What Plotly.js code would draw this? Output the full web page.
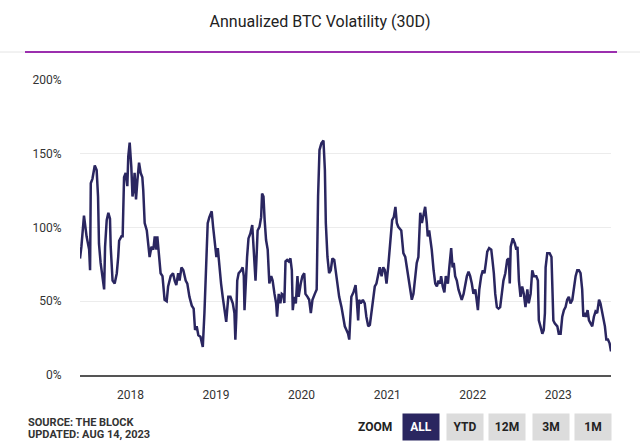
<!DOCTYPE html>
<html>
<head>
<meta charset="utf-8">
<script src="https://cdn.plot.ly/plotly-3.0.1.min.js"></script>
<style>html,body{margin:0;padding:0;background:#fff;}#chart{width:640px;height:445px;}</style>
</head>
<body>
<div id="chart"></div>
<script>
// ---- data ----
const dates = [
'2017-05-31','2017-06-06','2017-06-17','2017-06-28','2017-07-09','2017-07-13','2017-07-16','2017-07-23','2017-08-02','2017-08-10',
'2017-08-16','2017-08-20','2017-08-27','2017-09-03','2017-09-11','2017-09-15','2017-09-22','2017-09-29','2017-10-06','2017-10-09',
'2017-10-17','2017-10-26','2017-11-04','2017-11-10','2017-11-14','2017-11-24','2017-11-29','2017-12-05','2017-12-12','2017-12-19',
'2017-12-23','2017-12-29',
'2018-01-05','2018-01-10','2018-01-14','2018-01-19','2018-01-25','2018-01-31','2018-02-07','2018-02-14','2018-02-21','2018-02-25',
'2018-03-03','2018-03-12','2018-03-19','2018-03-24','2018-04-01','2018-04-09','2018-04-15','2018-04-22','2018-04-26','2018-05-03',
'2018-05-10','2018-05-18','2018-05-22','2018-05-27','2018-06-05','2018-06-11','2018-06-22','2018-07-02','2018-07-09','2018-07-16',
'2018-07-24','2018-07-30','2018-08-07','2018-08-15','2018-08-25','2018-09-01','2018-09-10','2018-09-20','2018-09-28','2018-10-04',
'2018-10-11','2018-10-18','2018-10-27','2018-11-06','2018-11-13','2018-11-17','2018-11-21','2018-11-27','2018-12-04','2018-12-14',
'2018-12-20','2018-12-29',
'2019-01-03','2019-01-09','2019-01-16','2019-01-23','2019-01-30','2019-02-06','2019-02-14','2019-02-18','2019-02-23','2019-03-04',
'2019-03-14','2019-03-21','2019-03-25','2019-03-29','2019-04-02','2019-04-08','2019-04-19','2019-04-25','2019-04-30','2019-05-03',
'2019-05-07','2019-05-14','2019-05-20','2019-05-28','2019-06-05','2019-06-10','2019-06-14','2019-06-19','2019-06-23','2019-06-28',
'2019-07-06','2019-07-13','2019-07-17','2019-07-23','2019-07-28','2019-08-03','2019-08-10','2019-08-17','2019-08-25','2019-08-31',
'2019-09-08','2019-09-15','2019-09-19','2019-09-26','2019-10-03','2019-10-09','2019-10-17','2019-10-20','2019-10-25','2019-11-01',
'2019-11-08','2019-11-15','2019-11-21','2019-11-25','2019-12-01','2019-12-08','2019-12-15','2019-12-20','2019-12-29',
'2020-01-05','2020-01-13','2020-01-18','2020-01-27','2020-02-03','2020-02-10','2020-02-17','2020-02-27','2020-03-06','2020-03-12',
'2020-03-18','2020-03-26','2020-04-04','2020-04-10','2020-04-14','2020-04-21','2020-04-28','2020-05-05','2020-05-12','2020-05-20',
'2020-05-26','2020-06-03','2020-06-10','2020-06-20','2020-06-27','2020-07-04','2020-07-11','2020-07-18','2020-07-23','2020-07-27',
'2020-08-01','2020-08-10','2020-08-19','2020-08-24','2020-08-30','2020-09-03','2020-09-10','2020-09-19','2020-09-27','2020-10-04',
'2020-10-12','2020-10-19','2020-10-26','2020-11-02','2020-11-09','2020-11-16','2020-11-23','2020-11-30','2020-12-08','2020-12-15',
'2020-12-22','2020-12-29',
'2021-01-05','2021-01-11','2021-01-16','2021-01-22','2021-01-29','2021-02-05','2021-02-11','2021-02-17','2021-03-02','2021-03-07',
'2021-03-11','2021-03-19','2021-03-26','2021-04-02','2021-04-09','2021-04-16','2021-04-23','2021-04-30','2021-05-07','2021-05-14',
'2021-05-22','2021-05-29','2021-06-05','2021-06-12','2021-06-19','2021-06-23','2021-06-29','2021-07-06','2021-07-10','2021-07-18',
'2021-07-25','2021-08-01','2021-08-08','2021-08-15','2021-08-19','2021-08-26','2021-09-02','2021-09-08','2021-09-17','2021-09-23',
'2021-10-01','2021-10-07','2021-10-12','2021-10-18','2021-10-25','2021-11-01','2021-11-08','2021-11-15','2021-11-23','2021-11-30',
'2021-12-07','2021-12-14','2021-12-21','2021-12-28',
'2022-01-04','2022-01-12','2022-01-18','2022-01-23','2022-01-29','2022-02-06','2022-02-13','2022-02-20','2022-02-26','2022-03-04',
'2022-03-12','2022-03-21','2022-03-26','2022-04-01','2022-04-07','2022-04-14','2022-04-21','2022-04-28','2022-05-05','2022-05-12',
'2022-05-20','2022-05-28','2022-06-04','2022-06-08','2022-06-12','2022-06-21','2022-06-30','2022-07-06','2022-07-11','2022-07-17',
'2022-07-24','2022-07-31','2022-08-07','2022-08-14','2022-08-22','2022-08-28','2022-09-05','2022-09-12','2022-09-19','2022-09-29',
'2022-10-06','2022-10-10','2022-10-17','2022-10-25','2022-10-31','2022-11-05','2022-11-08','2022-11-15','2022-11-25','2022-12-03',
'2022-12-06','2022-12-11','2022-12-17','2022-12-28',
'2023-01-03','2023-01-11','2023-01-18','2023-01-25','2023-02-01','2023-02-08','2023-02-15','2023-02-22','2023-03-02','2023-03-08',
'2023-03-16','2023-03-23','2023-03-30','2023-04-06','2023-04-13','2023-04-18','2023-04-24','2023-04-30','2023-05-06','2023-05-12',
'2023-05-19','2023-05-26','2023-06-02','2023-06-09','2023-06-16','2023-06-24','2023-06-30','2023-07-08','2023-07-14','2023-07-19',
'2023-07-25','2023-08-01','2023-08-08','2023-08-14'
];
const volatility = [
79,87,108,94,85,71,130,133,142,139,
121,89,76,67,58,87,105,110,106,87,
64,62,69,80,91,94,94,134,137,128,
148,157.5,
141,121,125,137,119,132,144,137,134,125,
103,98,89,80,87,85,94,85,94,83,
69,67,60,51,50,60,67,69,64,61,
69,64,73,71,64,62,53,47,45,30.5,
33,27,26,19,42,62,80,103,107,111,
100.5,87,
80,86,71,62,53,44,36,44,53,53,
48.6,42,24,39.5,64,69,71,73,67,44,
60,80,92.6,96,101.7,89,80,64,78,98,
100.5,107,123,121,105,91.5,85,62,67,64,
55,48.6,39.5,55,48.6,55,54,48.8,77,78,
77,79,71,44,53,48.6,67,53,62,
67,69,55,53,51,42,51,55,58,121,
152.5,157,159,139,103,80,69,71,79,78,
71,62,53,46,39.5,33,30.5,28,24,39.5,
53,56,61,51,37,51,48.6,51,48.6,39.5,
33,34,42,53,60,62,67,73,67,73,
71,62,
73,82.6,91.5,105,107,114,103,100.5,98,89,
82.6,80,73,67,58,51,55,64,76,80,
110,103,110,114,103,94,98,91.5,85,71,
62,60,64,62,67,60,56,67,62,73,
86,73,76,67,64,58,55,51,55,62,
67,70,67,62,
55,58,51,44,58,67,71,69,76,83.6,
86,85,78,69,55,46,45,46,55,64,
69,78,79,62,87,92.6,89,85,87,64,
53,60,55,46,58,48.6,55,71,67,67,
64,37,33,28,30.5,42,73,82.6,82.6,80,
64,37,35,33,
28,28,39.5,44,46,51,53,48.6,51,58,
67,71,71,69,58,39.5,42,39.5,44,37,
35,33,39.5,43,42,51,48.6,42,37,33,
24,24,21.5,16
];
const yTicks = [0, 50, 100, 150, 200];
const yTickLabels = ['0%', '50%', '100%', '150%', '200%'];
const titleText = 'Annualized BTC Volatility (30D)';
const footerLines = ['SOURCE: THE BLOCK', 'UPDATED: AUG 14, 2023'];
const zoomButtons = ['ALL', 'YTD', '12M', '3M', '1M'];

// ---- layout helpers (pixel -> paper) ----
const W = 640, H = 445, ML = 80, MR = 29, MT = 80, MB = 70;
const PW = W - ML - MR, PH = H - MT - MB;
const px = x => (x - ML) / PW;
const py = y => (H - MB - y) / PH;
const FONT = 'Roboto, "Open Sans", sans-serif';
const NAVY = '#2a2660';

const annotations = [];
footerLines.forEach((t, i) => {
  annotations.push({text: t, xref: 'paper', yref: 'paper', x: px(26), y: py(422 + i * 13),
    xanchor: 'left', yanchor: 'middle', showarrow: false,
    font: {family: FONT, size: 11, color: '#333', weight: 'bold'}});
});
annotations.push({text: 'ZOOM', xref: 'paper', yref: 'paper', x: px(394), y: py(427),
  xanchor: 'right', yanchor: 'middle', showarrow: false,
  font: {family: FONT, size: 12, color: '#222', weight: 'bold'}});
const btnCenters = [421, 464.5, 507, 550.5, 593];
zoomButtons.forEach((b, i) => {
  annotations.push({text: b, xref: 'paper', yref: 'paper', x: px(btnCenters[i]), y: py(427),
    xanchor: 'center', yanchor: 'middle', showarrow: false, width: 36, height: 26, borderpad: 0,
    bgcolor: i === 0 ? NAVY : '#dcdcdc',
    font: {family: FONT, size: 12, color: i === 0 ? '#fff' : '#222', weight: 'bold'}});
});

const shapes = [
  {type: 'line', xref: 'paper', yref: 'paper', x0: px(0), x1: px(640), y0: py(52), y1: py(52),
   line: {color: '#e4e4e4', width: 1}},
  {type: 'line', xref: 'paper', yref: 'paper', x0: px(25), x1: px(617), y0: py(52), y1: py(52),
   line: {color: '#9b2fae', width: 2}}
];

const trace = {
  x: dates, y: volatility, type: 'scatter', mode: 'lines',
  line: {color: NAVY, width: 2.5}, hoverinfo: 'x+y'
};

const layout = {
  width: W, height: H,
  margin: {l: ML, r: MR, t: MT, b: MB, pad: 0},
  paper_bgcolor: '#fff', plot_bgcolor: '#fff',
  showlegend: false,
  title: {text: titleText, xref: 'container', yref: 'container', x: 0.5, y: 1 - 21 / H,
    xanchor: 'center', yanchor: 'middle', font: {family: FONT, size: 16, color: '#222'}},
  xaxis: {
    type: 'date', range: [dates[0], dates[dates.length - 1]],
    tick0: '2018-01-01', dtick: 'M12', tickformat: '%Y',
    showgrid: false, zeroline: false, showline: true, linecolor: '#555', linewidth: 2,
    ticks: 'outside', ticklen: 8, tickcolor: 'rgba(0,0,0,0)',
    tickfont: {family: FONT, size: 12, color: '#333'}, fixedrange: true
  },
  yaxis: {
    range: [0, 200], tickmode: 'array', tickvals: yTicks, ticktext: yTickLabels,
    showgrid: true, gridcolor: '#ececec', gridwidth: 1, zeroline: false, showline: false,
    ticks: 'outside', ticklen: 15, tickcolor: 'rgba(0,0,0,0)',
    tickfont: {family: FONT, size: 12, color: '#333'}, fixedrange: true
  },
  shapes: shapes,
  annotations: annotations
};

Plotly.newPlot('chart', [trace], layout, {displayModeBar: false, staticPlot: true});
</script>
</body>
</html>
